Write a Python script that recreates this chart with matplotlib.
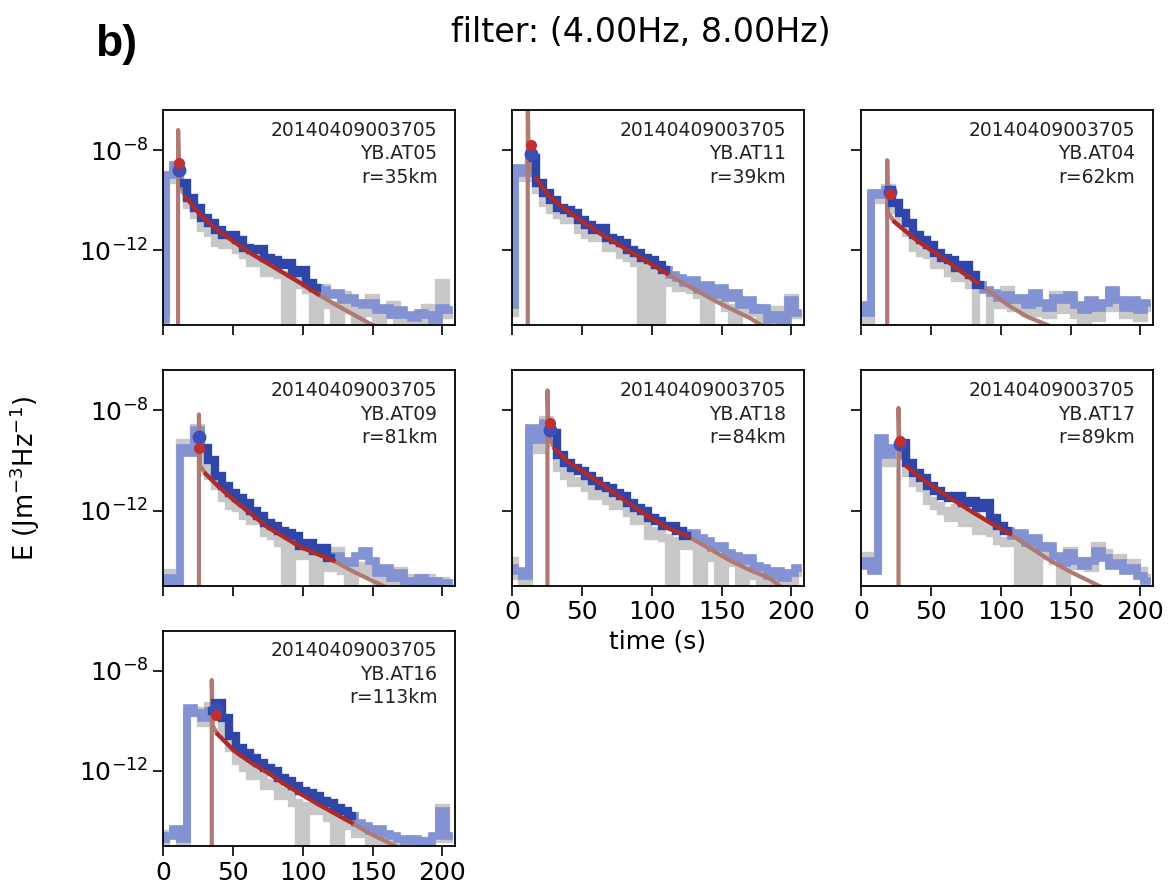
import matplotlib.pyplot as plt
import numpy as np
from matplotlib.ticker import NullLocator

EVENT = '20140409003705'
STATIONS = ['YB.AT05', 'YB.AT11', 'YB.AT04', 'YB.AT09', 'YB.AT18', 'YB.AT17', 'YB.AT16']
DIST_KM = [35, 39, 62, 81, 84, 89, 113]

# time samples (s)
T = [0, 5, 10, 15, 20, 25, 30, 35, 40, 45, 50, 55, 60, 65, 70, 75, 80, 85, 90, 95, 100,
     105, 110, 115, 120, 125, 130, 135, 140, 145, 150, 155, 160, 165, 170, 175, 180, 185,
     190, 195, 200, 205]

# log10 energy density, smoothed envelope (blue) and raw (grey)
at05_env = [-14.8, -9.0, -8.6, -9.3, -9.9, -10.3, -10.7,
            -10.9, -11.2, -11.4, -11.4, -11.6, -11.9, -12.0,
            -11.95, -12.3, -12.4, -12.6, -12.5, -12.9, -12.8,
            -13.3, -13.5, -13.6, -13.8, -13.7, -14.0, -13.9,
            -14.1, -14.2, -14.1, -14.4, -14.3, -14.6, -14.4,
            -14.6, -14.7, -14.5, -14.6, -14.8, -14.3, -14.4]
at05_raw = [-14.5, -9.2, -8.8, -9.6, -10.2, -10.6, -11.1,
            -11.3, -11.7, -11.8, -11.7, -12.0, -12.2, -12.5,
            -12.3, -12.9, -12.6, -13.0, -16.0, -13.2, -13.4,
            -13.6, -16.0, -13.5, -14.2, -16.0, -13.8, -14.4,
            -16.0, -14.5, -13.9, -16.0, -14.6, -14.2, -16.0,
            -14.7, -14.8, -16.0, -14.3, -14.9, -13.3, -14.6]

at11_env = [-14.2, -8.7, -8.9, -8.3, -9.3, -9.7, -10.0,
            -10.3, -10.4, -10.5, -10.8, -11.0, -11.2, -11.1,
            -11.5, -11.6, -11.7, -12.0, -12.1, -12.3, -12.4,
            -12.6, -12.8, -13.0, -13.1, -13.3, -13.2, -13.6,
            -13.4, -13.8, -13.5, -13.9, -13.7, -14.2, -14.0,
            -14.4, -14.3, -14.8, -14.6, -14.9, -14.0, -14.5]
at11_raw = [-14.5, -8.9, -9.1, -8.5, -9.6, -10.1, -10.4,
            -10.6, -10.8, -10.7, -11.2, -11.4, -11.5, -11.5,
            -11.9, -11.9, -12.2, -12.3, -12.5, -16.0, -12.7,
            -16.0, -13.1, -13.3, -13.5, -13.4, -13.6, -13.8,
            -16.0, -13.9, -13.7, -14.3, -16.0, -14.1, -14.5,
            -14.3, -16.0, -14.4, -14.7, -14.4, -13.9, -14.6]

at04_env = [-14.2, -14.5, -9.7, -9.8, -9.6, -10.1, -10.5,
            -10.9, -11.4, -11.6, -11.8, -12.1, -12.3, -12.4,
            -12.7, -12.6, -13.0, -13.4, -13.6, -13.7, -13.9,
            -13.8, -14.0, -13.9, -14.2, -13.7, -14.1, -14.3,
            -13.9, -14.0, -13.8, -14.2, -14.4, -14.0, -14.3,
            -14.1, -13.6, -14.0, -14.3, -14.0, -14.4, -14.1]
at04_raw = [-14.4, -14.8, -9.9, -10.0, -9.5, -10.4, -10.8,
            -11.3, -11.9, -12.1, -12.2, -12.6, -12.5, -12.9,
            -13.1, -12.9, -13.4, -16.0, -16.0, -13.9, -14.2,
            -13.6, -14.3, -14.1, -14.5, -13.8, -14.5, -14.6,
            -13.8, -14.4, -14.0, -14.6, -14.8, -14.2, -14.7,
            -14.3, -13.7, -14.3, -14.6, -14.1, -14.7, -14.3]

at09_env = [-14.8, -14.7, -14.9, -9.5, -9.7, -8.8, -9.5,
            -10.0, -10.6, -11.0, -11.3, -11.5, -11.7, -12.0,
            -12.2, -12.5, -12.6, -12.8, -12.9, -13.0, -13.4,
            -13.3, -13.6, -13.5, -13.9, -13.8, -14.0, -14.1,
            -13.8, -13.6, -14.0, -14.5, -14.3, -14.7, -14.5,
            -14.8, -14.9, -14.7, -14.9, -14.8, -14.9, -14.9]
at09_raw = [-14.9, -14.5, -14.9, -9.3, -9.6, -8.7, -10.1,
            -10.6, -11.0, -11.5, -11.8, -11.9, -12.2, -12.4,
            -12.4, -12.9, -13.0, -13.3, -16.0, -13.4, -13.8,
            -13.5, -16.0, -13.9, -14.3, -13.6, -14.4, -16.0,
            -14.2, -14.5, -14.3, -16.0, -14.6, -14.8, -14.4,
            -16.0, -14.7, -14.9, -14.7, -14.9, -14.8, -14.9]

at18_env = [-14.3, -14.4, -14.6, -8.7, -9.2, -8.5, -8.9,
            -9.8, -10.1, -10.3, -10.4, -10.6, -10.8, -11.0,
            -11.1, -11.3, -11.4, -11.7, -11.9, -12.0, -12.3,
            -12.4, -12.6, -12.6, -12.8, -13.0, -12.9, -13.1,
            -13.2, -13.5, -13.4, -13.7, -13.8, -14.0, -13.9,
            -14.2, -14.3, -14.6, -14.4, -14.7, -14.5, -14.3]
at18_raw = [-14.0, -14.6, -14.8, -8.9, -9.6, -8.4, -9.3,
            -10.3, -10.6, -10.9, -10.8, -11.1, -11.4, -11.3,
            -11.6, -11.8, -11.7, -12.1, -12.4, -12.2, -13.0,
            -12.8, -13.1, -16.0, -13.2, -13.4, -13.3, -16.0,
            -13.6, -13.9, -16.0, -14.1, -14.0, -16.0, -14.3,
            -14.6, -16.0, -14.8, -14.7, -16.0, -14.9, -14.5]

at17_env = [-14.2, -14.0, -14.4, -9.1, -9.8, -9.5, -9.3,
            -10.1, -10.5, -10.7, -11.0, -11.2, -11.4, -11.5,
            -11.4, -11.7, -11.6, -11.9, -11.7, -12.3, -12.6,
            -12.8, -13.0, -12.9, -13.3, -13.1, -13.5, -13.4,
            -13.8, -14.1, -13.7, -14.0, -14.2, -14.0, -13.6,
            -13.9, -14.2, -14.1, -14.4, -14.3, -14.6, -14.8]
at17_raw = [-14.0, -13.8, -14.3, -9.4, -10.1, -9.8, -9.5,
            -10.5, -10.9, -11.1, -11.6, -11.8, -12.0, -12.3,
            -11.9, -12.5, -12.1, -12.8, -12.4, -12.9, -13.2,
            -13.3, -13.1, -16.0, -13.5, -16.0, -13.4, -13.8,
            -14.0, -16.0, -13.6, -14.2, -14.0, -14.3, -13.4,
            -13.7, -14.0, -13.9, -14.2, -14.1, -14.4, -14.7]

at16_env = [-14.7, -14.6, -14.3, -14.7, -9.5, -9.7, -9.9,
            -9.6, -9.3, -9.9, -10.6, -11.1, -11.3, -11.5,
            -11.7, -11.9, -12.0, -12.3, -12.4, -12.6, -12.8,
            -12.9, -13.0, -13.2, -13.3, -13.5, -13.6, -13.8,
            -14.1, -14.2, -14.4, -14.3, -14.5, -14.6, -14.7,
            -14.8, -14.7, -14.8, -14.9, -14.6, -13.6, -14.6]
at16_raw = [-14.8, -14.5, -14.4, -14.8, -9.7, -9.6, -10.1,
            -9.4, -9.6, -10.5, -11.1, -11.6, -11.9, -12.2,
            -12.0, -12.6, -12.5, -13.0, -12.8, -13.3, -16.0,
            -13.4, -13.6, -13.5, -13.9, -16.0, -14.0, -14.2,
            -14.5, -14.4, -16.0, -14.6, -14.8, -14.7, -16.0,
            -14.9, -14.8, -14.9, -14.8, -14.7, -13.5, -14.7]

# model curves (time, log10 E): spike at origin time then coda decay
at05_fit_t = [10.8, 10.8, 11.6, 16, 27, 39, 51, 63, 75, 87, 99, 111, 123, 135, 152]
at05_fit = [-16, -7.2, -9.2, -9.87, -10.6, -11.2, -11.67, -12.13, -12.53, -12.93,
            -13.33, -13.76, -14.16, -14.53, -15.05]
at11_fit_t = [11.3, 11.3, 12, 17.3, 27, 39, 51, 63, 75, 87, 99, 111, 123, 135, 147, 159, 171, 180]
at11_fit = [-16, -6.0, -8.6, -9.13, -9.87, -10.4, -10.87, -11.33, -11.73, -12.13, -12.53,
            -12.93, -13.33, -13.7, -14.07, -14.4, -14.73, -15.05]
at04_fit_t = [18.8, 18.8, 19.3, 24, 32.6, 39.9, 52, 64, 73.7, 83.3, 95.4, 107.5, 119.6, 135]
at04_fit = [-16, -8.4, -10.5, -10.87, -11.27, -11.6, -12.07, -12.53, -12.93, -13.3,
            -13.8, -14.27, -14.67, -15.02]
at09_fit_t = [25.7, 25.7, 26.5, 30.5, 39, 51, 63, 75, 87, 99, 122, 135, 147, 158]
at09_fit = [-16, -8.16, -10.2, -10.53, -11.0, -11.6, -12.13, -12.67, -13.07, -13.47,
            -14.0, -14.4, -14.73, -15.02]
at18_fit_t = [25.4, 25.4, 26.2, 30.7, 39, 51, 63, 75, 87, 99.5, 111.6, 126, 140.6, 155,
              169.6, 184, 192]
at18_fit = [-16, -7.2, -9.0, -9.53, -10.0, -10.45, -10.9, -11.37, -11.84, -12.3, -12.7,
            -13.03, -13.5, -13.96, -14.36, -14.69, -15.02]
at17_fit_t = [26.9, 26.9, 27.6, 32.7, 44.8, 57, 69, 81, 93, 106.7, 120, 134.5, 149, 163.6, 172]
at17_fit = [-16, -7.9, -9.6, -10.23, -10.78, -11.25, -11.68, -12.1, -12.5, -12.93,
            -13.43, -13.96, -14.42, -14.82, -15.05]
at16_fit_t = [34.9, 34.9, 35.6, 39, 51, 63, 75, 87, 99, 111, 135, 147, 159, 167]
at16_fit = [-16, -8.37, -10.2, -10.53, -11.2, -11.67, -12.07, -12.53, -12.93, -13.33,
            -14.07, -14.47, -14.8, -15.02]

# fit window (s)
WIN_START = [16, 17, 20, 29, 28, 30, 37]
WIN_END = [111, 112, 84, 122, 126, 107, 135]
# peak markers: time, log10 observed, log10 model
PEAK_T = [11.3, 13.7, 20.5, 25.7, 27.5, 27.9, 38.0]
PEAK_OBS = [-8.8, -8.16, -9.67, -9.07, -8.8, -9.33, -9.53]
PEAK_MOD = [-8.5, -7.8, -9.76, -9.5, -8.5, -9.23, -9.77]

env_all = [at05_env, at11_env, at04_env, at09_env, at18_env, at17_env, at16_env]
raw_all = [at05_raw, at11_raw, at04_raw, at09_raw, at18_raw, at17_raw, at16_raw]
fit_t_all = [at05_fit_t, at11_fit_t, at04_fit_t, at09_fit_t, at18_fit_t, at17_fit_t, at16_fit_t]
fit_all = [at05_fit, at11_fit, at04_fit, at09_fit, at18_fit, at17_fit, at16_fit]
slots = [(0, 0), (0, 1), (0, 2), (1, 0), (1, 1), (1, 2), (2, 0)]

C_RAW = '#c8c8c8'
C_ENV = '#8392d2'
C_WIN = '#2f45a8'
C_FIT = '#b02a2a'
C_MOD = '#b07a74'

fig, axes = plt.subplots(3, 3, figsize=(11.71, 8.93), dpi=100, sharex=True, sharey=True)
fig.subplots_adjust(left=0.1392, right=0.9846, bottom=0.0526, top=0.8768,
                    wspace=0.195, hspace=0.209)

t = np.array(T, dtype=float)
for k, (r, c) in enumerate(slots):
    ax = axes[r, c]
    env = 10.0 ** np.array(env_all[k])
    raw = 10.0 ** np.array(raw_all[k])
    ft = np.array(fit_t_all[k])
    fv = 10.0 ** np.array(fit_all[k])
    w = (t >= WIN_START[k] - 2.5) & (t <= WIN_END[k] + 2.5)
    fw = (ft >= WIN_START[k]) & (ft <= WIN_END[k])

    ax.semilogy(t, raw, color=C_RAW, lw=6, drawstyle='steps-mid', solid_joinstyle='miter')
    ax.semilogy(t, env, color=C_ENV, lw=5.5, drawstyle='steps-mid', solid_joinstyle='miter')
    ax.semilogy(ft, fv, color=C_MOD, lw=3)
    ax.semilogy(t[w], env[w], color=C_WIN, lw=6, drawstyle='steps-mid', solid_joinstyle='miter')
    ax.semilogy(ft[fw], fv[fw], color=C_FIT, lw=3)
    ax.plot(PEAK_T[k], 10.0 ** PEAK_OBS[k], 'o', color='#3a50b8', ms=9)
    ax.plot(PEAK_T[k], 10.0 ** PEAK_MOD[k], 'o', color='#c03030', ms=7)

    ax.text(0.94, 0.95, f'{EVENT}\n{STATIONS[k]}\nr={DIST_KM[k]}km',
            transform=ax.transAxes, ha='right', va='top', fontsize=13.5,
            linespacing=1.3, color='#222222')

axes[2, 1].remove()
axes[2, 2].remove()

ax0 = axes[0, 0]
ax0.set_xlim(0, 209)
ax0.set_ylim(1e-15, 10 ** -6.4)
ax0.set_xticks([0, 50, 100, 150, 200])
ax0.set_yticks([1e-8, 1e-12])
for r, c in slots:
    ax = axes[r, c]
    ax.yaxis.set_minor_locator(NullLocator())
    ax.tick_params(labelsize=18, length=7, width=1.2)
    for s in ax.spines.values():
        s.set_linewidth(1.3)

axes[1, 1].tick_params(labelbottom=True)
axes[1, 2].tick_params(labelbottom=True)

axes[1, 1].set_xlabel('time (s)', fontsize=18)
axes[1, 0].set_ylabel('E (Jm$^{-3}$Hz$^{-1}$)', fontsize=18.5)
axes[1, 0].yaxis.set_label_coords(-0.415, 0.5)

fig.text(0.547, 0.964, 'filter: (4.00Hz, 8.00Hz)', ha='center', va='center', fontsize=24)
fig.text(0.081, 0.95, 'b)', ha='left', va='center', fontsize=32, fontweight='bold',
         family=['Liberation Sans', 'DejaVu Sans'])

fig.savefig('out.png', dpi=100)
